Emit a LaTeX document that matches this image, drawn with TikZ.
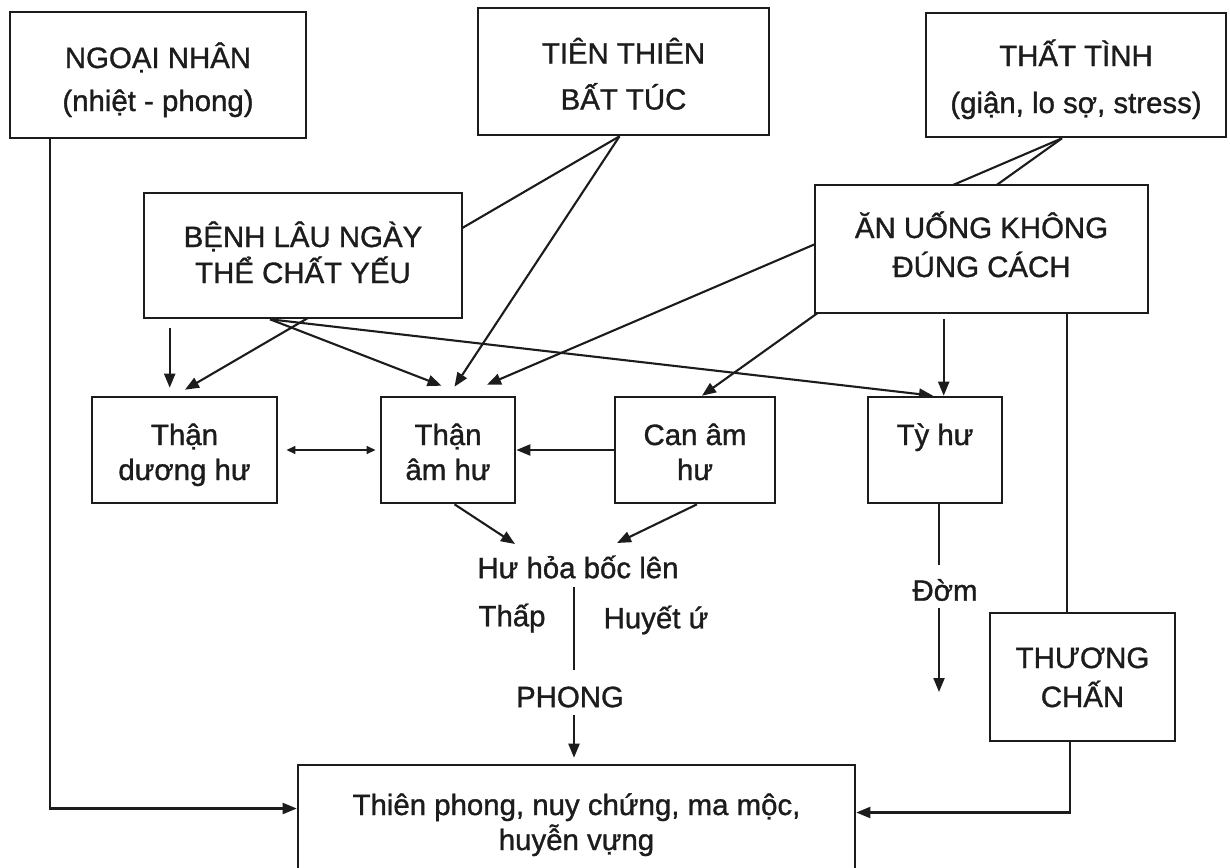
\documentclass[tikz,border=0pt]{standalone}
\usepackage{fontspec}
\setmainfont[RawFeature={embolden=1.1}]{Liberation Sans}
\usetikzlibrary{arrows.meta,calc}
\pgfdeclarelayer{back}
\pgfdeclarelayer{bg}
\pgfsetlayers{back,bg,main}
\definecolor{ink}{RGB}{28,28,28}
\begin{document}
\begin{tikzpicture}[x=0.5pt,y=-0.5pt,
  txt/.style={text=ink,font=\fontsize{14.7}{17.5}\selectfont},
  tophgt/.style={execute at begin node={\rule{0pt}{#1}}},
  botdep/.style={execute at end node={\rule[-#1]{0pt}{0pt}}},
  box/.style={txt,draw=ink,line width=1.3pt,fill=white,inner sep=0pt,align=center,botdep=10pt},
  wh/.style 2 args={minimum width=#1*0.5pt,minimum height=#2*0.5pt},
  lbl/.style={txt,inner sep=0pt},
  conn/.style={draw=ink,line width=1.05pt},
  arr/.style={conn,-{Triangle[length=7pt,width=5.5pt]}},
  darr/.style={conn,{Triangle[length=4.5pt,width=3.8pt]}-{Triangle[length=4.5pt,width=3.8pt]}}]
\useasboundingbox (0,0) rectangle (1230,867);
\clip (0,0) rectangle (1230,867);
\begin{pgfonlayer}{back}
\fill[white] (0,0) rectangle (1230,867);
\end{pgfonlayer}

% boxes
\node[box,wh={296}{126},tophgt=46pt] (ngoai) at (158,75) {NGOẠI NHÂN\\[4pt](nhiệt - phong)};
\node[box,wh={291}{127},tophgt=48pt] (tien) at (623.5,71.5) {TIÊN THIÊN\\[5.5pt]BẤT TÚC};
\node[box,wh={300}{124},tophgt=48pt] (that) at (1076,75) {THẤT TÌNH\\[6pt](giận, lo sợ, stress)};
\node[box,wh={318}{125},tophgt=37.5pt] (benh) at (303,255.5) {BỆNH LÂU NGÀY\\[0.5pt]THỂ CHẤT YẾU};
\node[box,wh={333}{128},tophgt=38pt] (anuong) at (981.5,249) {ĂN UỐNG KHÔNG\\[2pt]ĐÚNG CÁCH};
\node[box,wh={185}{106},tophgt=40pt] (tdh) at (184.5,450) {Thận\\dương hư};
\node[box,wh={134}{106},tophgt=40pt] (tah) at (448,450) {Thận\\âm hư};
\node[box,wh={160}{106},tophgt=40pt] (can) at (695,450) {Can âm\\hư};
\node[box,wh={134}{106},tophgt=40pt] (ty) at (935,450) {Tỳ hư\\\phantom{hư}};
\node[box,wh={185}{128},tophgt=40pt] (thuong) at (1082.5,677) {THƯƠNG\\[2pt]CHẤN};
\node[box,wh={557}{115},tophgt=41.5pt,botdep=14pt] (bottom) at (576.5,822.5) {Thiên phong, nuy chứng, ma mộc,\\huyễn vựng};

% free labels
\node[lbl] (hu) at (578,567) {Hư hỏa bốc lên};
\node[lbl] (thap) at (512,618) {Thấp};
\node[lbl] (huyet) at (656,620) {Huyết ứ};
\node[lbl] (phong) at (570,697) {PHONG};
\node[lbl] (dom) at (945,590) {Đờm};

\begin{pgfonlayer}{bg}
\draw[arr] ($(ngoai.south west)+(41,0)$) |- ($(bottom.west)+(0,-14)$);
\draw[arr] ($(thuong.south)+(-12.5,0)$) |- ($(bottom.east)+(0,-10)$);
\draw[conn] ($(anuong.south west)+(253,0)$) coordinate (c1) -- (c1 |- thuong.north);
\coordinate (tt) at ($(that.south)+(-14,0)$);
\draw[arr] (tt) -- ($(tah.north)+(39,-11)$);
\draw[arr] (tt) -- ($(can.north)+(7,0)$);
\coordinate (tb) at ($(tien.south)+(-4,0)$);
\draw[arr] (tb) -- ($(tdh.north)+(0.5,-6)$);
\draw[arr] (tb) -- ($(tah.north)+(6.5,-9)$);
\draw[arr] ($(benh.south west)+(27,9)$) coordinate (c2) -- ($(c2 |- tdh.north)+(0,-8)$);
\coordinate (bb) at ($(benh.south)+(-33,0)$);
\draw[arr] (bb) -- ($(tah.north)+(-6.5,-10)$);
\draw[arr] (bb) -- ($(ty.north)+(-2,0)$);
\draw[arr] ($(anuong.south west)+(130,5)$) coordinate (c3) -- (c3 |- ty.north);
\draw[darr] ($(tdh.east)+(8,0)$) -- ($(tah.west)+(-4,0)$);
\draw[arr] (can.west) -- (tah.east);
\draw[arr] ($(tah.south)+(6.5,0)$) -- ($(hu.center)+(-63,-23)$);
\draw[arr] ($(can.south)+(2,0)$) -- ($(hu.center)+(39,-24)$);
\coordinate (c4) at ($(hu.center)+(-4,20)$);
\draw[conn] (c4) -- ($(c4 |- phong.center)+(0,-27)$);
\coordinate (c5) at ($(c4 |- phong.center)+(0,18)$);
\draw[arr] (c5) -- ($(c5 |- bottom.north)+(0,-6)$);
\coordinate (c6) at ($(ty.south)+(4,0)$);
\draw[conn] (c6) -- ($(c6 |- dom.center)+(0,-25)$);
\draw[arr] ($(c6 |- dom.center)+(0,18)$) -- ($(c6 |- dom.center)+(0,102)$);
\end{pgfonlayer}
\end{tikzpicture}
\end{document}
